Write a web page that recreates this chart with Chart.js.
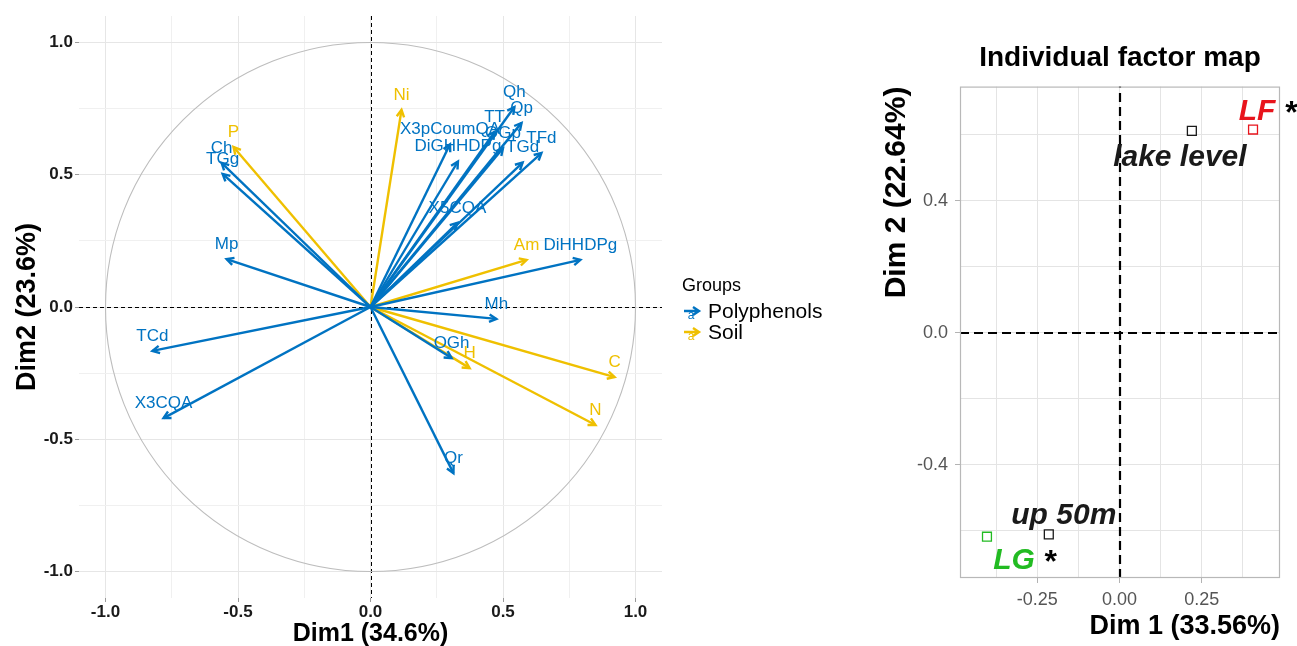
<!DOCTYPE html>
<html>
<head>
<meta charset="utf-8">
<script src="https://cdn.jsdelivr.net/npm/chart.js@4/dist/chart.umd.min.js"></script>
<style>
  html, body { margin: 0; padding: 0; background: #ffffff; }
  #wrap { position: relative; width: 1297px; height: 646px; overflow: hidden; }
  #pca { position: absolute; left: 0; top: 0; }
  #ind { position: absolute; left: 860px; top: 0; }
</style>
</head>
<body>
<div id="wrap">
  <canvas id="pca" width="860" height="646"></canvas>
  <canvas id="ind" width="437" height="646"></canvas>
</div>
<script>
// ---- Variables factor map (correlation circle) ----
const varNames = ['Qh', 'Qp', 'TT', 'OGp', 'X3pCoumQA', 'DiGHHDPg', 'TGd', 'TFd', 'X5CQA',
                  'DiHHDPg', 'Mh', 'OGh', 'Qr', 'X3CQA', 'TCd', 'Mp', 'Ch', 'TGg',
                  'Ni', 'P', 'Am', 'H', 'C', 'N'];
const varDim1 = [0.543, 0.570, 0.468, 0.500, 0.300, 0.330, 0.574, 0.645, 0.328,
                 0.792, 0.475, 0.306, 0.313, -0.781, -0.823, -0.543, -0.562, -0.558,
                 0.117, -0.517, 0.589, 0.374, 0.921, 0.849];
const varDim2 = [0.756, 0.696, 0.662, 0.600, 0.615, 0.550, 0.546, 0.582, 0.318,
                 0.178, -0.045, -0.193, -0.628, -0.420, -0.166, 0.181, 0.545, 0.503,
                 0.745, 0.605, 0.178, -0.231, -0.265, -0.446];
const varGroup = ['Polyphenols', 'Polyphenols', 'Polyphenols', 'Polyphenols', 'Polyphenols',
                  'Polyphenols', 'Polyphenols', 'Polyphenols', 'Polyphenols', 'Polyphenols',
                  'Polyphenols', 'Polyphenols', 'Polyphenols', 'Polyphenols', 'Polyphenols',
                  'Polyphenols', 'Polyphenols', 'Polyphenols',
                  'Soil', 'Soil', 'Soil', 'Soil', 'Soil', 'Soil'];
const groupNames = ['Polyphenols', 'Soil'];
const groupColors = ['#0073C2', '#EFC000'];

const pcaMajorTicks = [-1, -0.5, 0, 0.5, 1];
const pcaMajorLabels = ['-1.0', '-0.5', '0.0', '0.5', '1.0'];
const pcaMinorTicks = [-0.75, -0.25, 0.25, 0.75];

// ---- Individual factor map ----
const siteNames = ['lake level', 'LF', 'up 50m', 'LG'];
const siteDim1 = [0.220, 0.406, -0.215, -0.403];
const siteDim2 = [0.611, 0.615, -0.611, -0.618];
const siteMarks = ['', '*', '', '*'];
const siteColors = ['#1a1a1a', '#e8141c', '#1a1a1a', '#22bb22'];

const indXMajorTicks = [-0.25, 0, 0.25];
const indXMajorLabels = ['-0.25', '0.00', '0.25'];
const indXMinorTicks = [-0.375, -0.125, 0.125, 0.375];
const indYMajorTicks = [-0.4, 0, 0.4];
const indYMajorLabels = ['-0.4', '0.0', '0.4'];
const indYMinorTicks = [-0.6, -0.2, 0.2, 0.6];

// ---------------------------------------------------------------
const FONT = "'Liberation Sans', Arial, Helvetica, sans-serif";
Chart.defaults.font.family = FONT;

const near = (a, b) => Math.abs(a - b) < 1e-9;
const isIn = (list, v) => list.some(t => near(t, v));

function fixedTicks(major, minor) {
  const all = major.concat(minor).sort((a, b) => a - b);
  return scale => { scale.ticks = all.map(v => ({ value: v })); };
}
function labelFor(major, labels) {
  return v => {
    const k = major.findIndex(t => near(t, v));
    return k >= 0 ? labels[k] : '';
  };
}

// dashed zero lines + unit circle behind the arrows
const circleAndAxes = {
  id: 'circleAndAxes',
  beforeDatasetsDraw(chart) {
    const { ctx, chartArea, scales } = chart;
    const cx = scales.x.getPixelForValue(0);
    const cy = scales.y.getPixelForValue(0);
    const rx = scales.x.getPixelForValue(1) - cx;
    const ry = cy - scales.y.getPixelForValue(1);
    ctx.save();
    ctx.strokeStyle = '#000000';
    ctx.lineWidth = 1;
    ctx.setLineDash([4, 3]);
    ctx.beginPath();
    ctx.moveTo(chartArea.left, Math.round(cy) + 0.5);
    ctx.lineTo(chartArea.right, Math.round(cy) + 0.5);
    ctx.moveTo(Math.round(cx) + 0.5, chartArea.top);
    ctx.lineTo(Math.round(cx) + 0.5, chartArea.bottom);
    ctx.stroke();
    ctx.setLineDash([]);
    ctx.strokeStyle = '#bdbdbd';
    ctx.lineWidth = 1.1;
    ctx.beginPath();
    ctx.ellipse(cx, cy, rx, ry, 0, 0, Math.PI * 2);
    ctx.stroke();
    ctx.restore();
  }
};

// arrow heads at the end of each loading vector, then the variable names
const arrowHeads = {
  id: 'arrowHeads',
  afterDatasetsDraw(chart) {
    const ctx = chart.ctx;
    const heads = [];
    chart.data.datasets.forEach((ds, i) => {
      const meta = chart.getDatasetMeta(i);
      const p0 = meta.data[0], p1 = meta.data[1];
      const ang = Math.atan2(p1.y - p0.y, p1.x - p0.x);
      heads.push({ x: p1.x, y: p1.y, ang, color: ds.borderColor, name: ds.label });
    });
    ctx.save();
    ctx.lineWidth = 2.4;
    ctx.lineJoin = 'miter';
    ctx.lineCap = 'butt';
    const L = 8, A = Math.PI / 6.5;
    heads.forEach(h => {
      ctx.strokeStyle = h.color;
      ctx.beginPath();
      ctx.moveTo(h.x - L * Math.cos(h.ang - A), h.y - L * Math.sin(h.ang - A));
      ctx.lineTo(h.x, h.y);
      ctx.lineTo(h.x - L * Math.cos(h.ang + A), h.y - L * Math.sin(h.ang + A));
      ctx.stroke();
    });
    ctx.font = '17px ' + FONT;
    ctx.textAlign = 'center';
    ctx.textBaseline = 'middle';
    heads.forEach(h => {
      ctx.fillStyle = h.color;
      ctx.fillText(h.name, h.x, h.y - 15);
    });
    ctx.restore();
  }
};

// group legend to the right of the panel
const groupLegend = {
  id: 'groupLegend',
  afterDraw(chart) {
    const { ctx, chartArea } = chart;
    const x0 = chartArea.right + 20;
    const y0 = 286;
    ctx.save();
    ctx.textBaseline = 'middle';
    ctx.textAlign = 'left';
    ctx.fillStyle = '#000000';
    ctx.font = '18px ' + FONT;
    ctx.fillText('Groups', x0, y0);
    groupNames.forEach((g, i) => {
      const y = y0 + 25 + i * 21;
      const c = groupColors[i];
      ctx.strokeStyle = c;
      ctx.lineWidth = 2.4;
      ctx.beginPath();
      ctx.moveTo(x0 + 2, y);
      ctx.lineTo(x0 + 17, y);
      ctx.moveTo(x0 + 11, y - 4);
      ctx.lineTo(x0 + 17, y);
      ctx.lineTo(x0 + 11, y + 4);
      ctx.stroke();
      ctx.fillStyle = c;
      ctx.font = '12px ' + FONT;
      ctx.textAlign = 'center';
      ctx.fillText('a', x0 + 9, y + 5);
      ctx.textAlign = 'left';
      ctx.fillStyle = '#000000';
      ctx.font = '21px ' + FONT;
      ctx.fillText(g, x0 + 26, y + 1);
    });
    ctx.restore();
  }
};

const pcaDatasets = varNames.map((name, i) => {
  const g = groupNames.indexOf(varGroup[i]);
  return {
    label: name,
    data: [{ x: 0, y: 0 }, { x: varDim1[i], y: varDim2[i] }],
    showLine: true,
    borderColor: groupColors[g],
    backgroundColor: groupColors[g],
    borderWidth: 2.4,
    pointRadius: 0,
    pointHoverRadius: 0,
    fill: false
  };
});

function pcaAxis(isX) {
  const title = isX ? 'Dim1 (34.6%)' : 'Dim2 (23.6%)';
  return {
    type: 'linear',
    position: isX ? 'bottom' : 'left',
    min: -1.1,
    max: 1.1,
    afterBuildTicks: fixedTicks(pcaMajorTicks, pcaMinorTicks),
    afterFit: s => { if (isX) s.height = 48; else s.width = 79; },
    border: { display: false },
    grid: {
      color: ctx => isIn(pcaMajorTicks, ctx.tick.value) ? '#e6e6e6' : '#f0f0f0',
      lineWidth: 1,
      drawTicks: true,
      tickLength: 4,
      tickColor: ctx => isIn(pcaMajorTicks, ctx.tick.value) ? '#9a9a9a' : 'rgba(0,0,0,0)'
    },
    ticks: {
      autoSkip: false,
      maxRotation: 0,
      padding: isX ? 0 : 2,
      color: '#1a1a1a',
      font: { size: 17, weight: 'bold' },
      callback: labelFor(pcaMajorTicks, pcaMajorLabels)
    },
    title: {
      display: true,
      text: title,
      color: '#000000',
      font: { size: isX ? 25 : 27, weight: 'bold' },
      padding: isX ? { top: 0, bottom: -3 } : { top: 11, bottom: 0 }
    }
  };
}

new Chart(document.getElementById('pca'), {
  type: 'scatter',
  data: { datasets: pcaDatasets },
  options: {
    responsive: false,
    devicePixelRatio: 1,
    animation: false,
    events: [],
    layout: { padding: { left: 0, right: 198, top: 16, bottom: 0 } },
    plugins: { legend: { display: false }, tooltip: { enabled: false } },
    scales: { x: pcaAxis(true), y: pcaAxis(false) }
  },
  plugins: [circleAndAxes, arrowHeads, groupLegend]
});

// ---- right panel ----
const panelFrame = {
  id: 'panelFrame',
  beforeDatasetsDraw(chart) {
    const { ctx, chartArea, scales } = chart;
    const cx = Math.round(scales.x.getPixelForValue(0));
    const cy = Math.round(scales.y.getPixelForValue(0));
    ctx.save();
    ctx.strokeStyle = '#000000';
    ctx.lineWidth = 2.2;
    ctx.setLineDash([9, 5]);
    ctx.beginPath();
    ctx.moveTo(chartArea.left, cy);
    ctx.lineTo(chartArea.right, cy);
    ctx.moveTo(cx, chartArea.bottom);
    ctx.lineTo(cx, chartArea.top);
    ctx.stroke();
    ctx.restore();
  },
  afterDraw(chart) {
    const { ctx, chartArea } = chart;
    ctx.save();
    ctx.strokeStyle = '#b8b8b8';
    ctx.lineWidth = 1.2;
    ctx.strokeRect(chartArea.left + 0.5, chartArea.top + 0.5,
                   chartArea.right - chartArea.left - 1, chartArea.bottom - chartArea.top - 1);
    ctx.restore();
  }
};

// site names next to the points (offsets in pixels from each point)
const siteLabelOffset = [
  { dx: -12, dy: 35 },
  { dx: 4, dy: -10 },
  { dx: 15, dy: -10 },
  { dx: 27, dy: 32 }
];
const siteLabels = {
  id: 'siteLabels',
  afterDatasetsDraw(chart) {
    const ctx = chart.ctx;
    const meta = chart.getDatasetMeta(0);
    ctx.save();
    ctx.textBaseline = 'alphabetic';
    meta.data.forEach((pt, i) => {
      const off = siteLabelOffset[i];
      const x = pt.x + off.dx, y = pt.y + off.dy;
      ctx.font = 'italic bold 30px ' + FONT;
      ctx.textAlign = 'center';
      ctx.fillStyle = siteColors[i];
      ctx.fillText(siteNames[i], x, y);
      if (siteMarks[i]) {
        const w = ctx.measureText(siteNames[i]).width;
        ctx.font = 'bold 32px ' + FONT;
        ctx.fillStyle = '#000000';
        ctx.fillText(siteMarks[i], x + w / 2 + 16, y + 3);
      }
    });
    ctx.restore();
  }
};

function indAxis(isX) {
  const major = isX ? indXMajorTicks : indYMajorTicks;
  const minor = isX ? indXMinorTicks : indYMinorTicks;
  const labels = isX ? indXMajorLabels : indYMajorLabels;
  return {
    type: 'linear',
    position: isX ? 'bottom' : 'left',
    min: isX ? -0.485 : -0.743,
    max: isX ? 0.488 : 0.745,
    afterBuildTicks: fixedTicks(major, minor),
    afterFit: s => { if (isX) s.height = 68; else s.width = 100; },
    border: { display: false },
    grid: {
      color: '#e4e4e4',
      lineWidth: 1,
      drawTicks: true,
      tickLength: 5,
      tickColor: ctx => isIn(major, ctx.tick.value) ? '#b3b3b3' : 'rgba(0,0,0,0)'
    },
    ticks: {
      autoSkip: false,
      maxRotation: 0,
      padding: isX ? 6 : 7,
      color: '#555555',
      font: { size: 18 },
      callback: labelFor(major, labels)
    },
    title: {
      display: true,
      text: isX ? 'Dim 1 (33.56%)' : 'Dim 2 (22.64%)',
      align: 'end',
      color: '#000000',
      font: { size: isX ? 27 : 30, weight: 'bold' },
      padding: isX ? { top: 0, bottom: 3 } : { top: 19, bottom: 0 }
    }
  };
}

new Chart(document.getElementById('ind'), {
  type: 'scatter',
  data: {
    datasets: [{
      label: 'sites',
      data: siteNames.map((n, i) => ({ x: siteDim1[i], y: siteDim2[i] })),
      pointStyle: 'rect',
      pointRadius: 6.3,
      pointHoverRadius: 6.3,
      pointBorderWidth: 1.3,
      pointBorderColor: siteColors,
      pointBackgroundColor: 'rgba(0,0,0,0)',
      showLine: false
    }]
  },
  options: {
    responsive: false,
    devicePixelRatio: 1,
    animation: false,
    events: [],
    layout: { padding: { left: 0, right: 17, top: 0, bottom: 0 } },
    plugins: {
      legend: { display: false },
      tooltip: { enabled: false },
      title: {
        display: true,
        fullSize: false,
        text: 'Individual factor map',
        color: '#000000',
        font: { size: 28, weight: 'bold' },
        padding: { top: 41, bottom: 12 }
      }
    },
    scales: { x: indAxis(true), y: indAxis(false) }
  },
  plugins: [panelFrame, siteLabels]
});
</script>
</body>
</html>
